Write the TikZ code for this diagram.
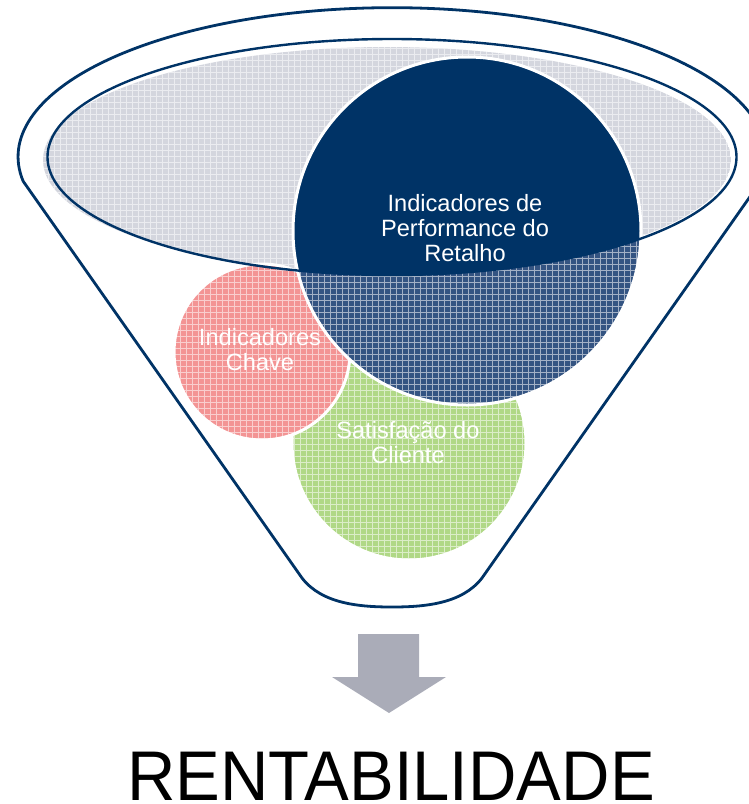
\documentclass[tikz,border=0pt]{standalone}
\usepackage{fontspec}
\setmainfont{Liberation Sans}
\usetikzlibrary{positioning}

\definecolor{navy}{RGB}{0,51,102}
\definecolor{hatchblue}{RGB}{52,84,130}
\definecolor{pinkfill}{RGB}{243,148,148}
\definecolor{greenfill}{RGB}{176,216,134}
\definecolor{greyfill}{RGB}{212,214,222}
\definecolor{arrowgrey}{RGB}{170,172,184}

\begin{document}
\begin{tikzpicture}[x=1pt, y=-1pt,
    rim/.style={draw=navy, line width=2.8pt, line join=round},
    texture/.style={draw=white, line width=0.6pt, opacity=0.55, step=6pt},
    whiteedge/.style={draw=white, line width=3pt},
    bubbletext/.style={text=white, align=center, inner sep=0pt, font=\fontsize{23.6}{25}\selectfont}]
    \useasboundingbox (0,0) rectangle (749,804);
    \clip (0,0) rectangle (749,804);

    % Centres
    \coordinate (perf) at (467,231);
    \coordinate (keys) at (262,352);
    \coordinate (client) at (409,443);
    \coordinate (mouth) at (392,157);

    % Grey inside of the mouth
    \begin{scope}
        \clip (387,160) ellipse[x radius=344pt, y radius=113pt];
        \fill[greyfill] (387,160) ellipse[x radius=344pt, y radius=113pt];
        \draw[texture] (40,280) grid (740,40);
    \end{scope}

    % Green circle
    \begin{scope}
        \clip (client) circle[radius=117pt];
        \fill[greenfill] (client) circle[radius=117pt];
        \draw[texture] (288,564) grid (530,322);
    \end{scope}
    \draw[whiteedge] (client) circle[radius=117pt];

    % Pink circle
    \begin{scope}
        \clip (keys) circle[radius=88pt];
        \fill[pinkfill] (keys) circle[radius=88pt];
        \draw[texture] (170,444) grid (354,260);
    \end{scope}
    \draw[whiteedge] (keys) circle[radius=88pt];

    % Blue circle, solid where it is inside the mouth
    \begin{scope}
        \clip (perf) circle[radius=174pt];
        \fill[hatchblue] (perf) circle[radius=174pt];
        \draw[texture] (290,408) grid (645,54);
        \clip (mouth) ellipse[x radius=344.5pt, y radius=118pt];
        \fill[navy] (perf) circle[radius=174pt];
    \end{scope}
    \draw[whiteedge] (perf) circle[radius=174pt];

    % Mouth and funnel
    \draw[rim, line width=2.4pt] (mouth) ellipse[x radius=344.5pt, y radius=118pt];
    \draw[rim] (23,181) -- (302,578)
        .. controls (322,604) and (360,607) .. (392,607)
        .. controls (424,607) and (462,604) .. (482,578)
        -- (761,181) arc[start angle=-9.4, end angle=189.4, x radius=374pt, y radius=149pt];

    % Texts
    \node[bubbletext] (perf label) at (465,228) {Indicadores de\\Performance do\\Retalho};
    \node[bubbletext] (keys label) at (260,350) {Indicadores\\Chave};
    \node[bubbletext] (client label) at (408,443) {Satisfação do\\Cliente};

    % Arrow and result
    \fill[arrowgrey] (358,634) -- (419,634) -- (419,677) -- (446,677)
        -- (389,713) -- (332,677) -- (358,677) -- cycle;
    \node[anchor=base, inner sep=0pt, font=\fontsize{67}{70}\selectfont] (result) at (391,800) {\scalebox{1}[1.05]{RENTABILIDADE}};
\end{tikzpicture}
\end{document}
